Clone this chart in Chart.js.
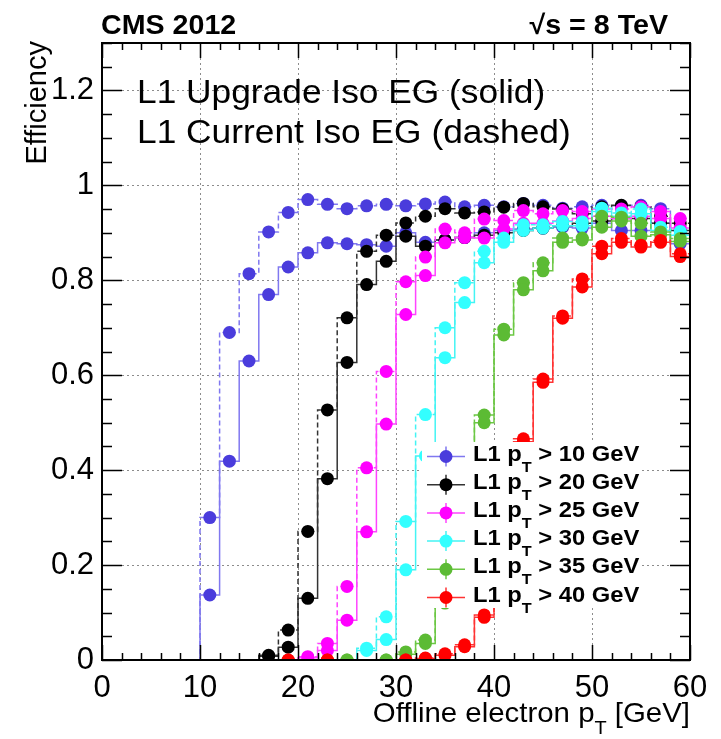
<!DOCTYPE html>
<html>
<head>
<meta charset="utf-8">
<script src="https://cdn.jsdelivr.net/npm/chart.js@4.4.1/dist/chart.umd.min.js"></script>
<style>
  html, body { margin: 0; padding: 0; background: #fff; }
  #wrap { width: 721px; height: 739px; }
</style>
</head>
<body>
<div id="wrap"><canvas id="effChart"></canvas></div>
<script>
// ─── DATA ────────────────────────────────────────────────────
// 2 GeV bins, centres 1..59 ; null = no point drawn in that bin
const binCenters = [1, 3, 5, 7, 9, 11, 13, 15, 17, 19, 21, 23, 25, 27, 29,
                    31, 33, 35, 37, 39, 41, 43, 45, 47, 49, 51, 53, 55, 57, 59];
const binEdges = [0, 2, 4, 6, 8, 10, 12, 14, 16, 18, 20, 22, 24, 26, 28, 30,
                  32, 34, 36, 38, 40, 42, 44, 46, 48, 50, 52, 54, 56, 58, 60];
const xTickValues = [0, 10, 20, 30, 40, 50, 60];
const yTickValues = [0, 0.2, 0.4, 0.6, 0.8, 1, 1.2];

// L1 pT > 10 GeV
const blueCurrent = [null, null, null, null, null, 0.30, 0.69, 0.814, 0.902, 0.943,
                     0.970, 0.960, 0.951, 0.957, 0.960, 0.957, 0.961, 0.965, 0.955, 0.958,
                     0.955, 0.962, 0.958, 0.952, 0.955, 0.958, 0.957, 0.958, 0.951, 0.905];
const blueUpgrade = [null, null, null, null, null, 0.137, 0.419, 0.630, 0.770, 0.828,
                     0.858, 0.879, 0.877, 0.875, 0.872, 0.900, 0.880, 0.885, 0.890, 0.900,
                     0.905, 0.908, 0.910, 0.912, 0.910, 0.920, 0.905, 0.905, 0.920, 0.877];
// L1 pT > 20 GeV
const blackCurrent = [null, null, null, null, null, null, null, null, 0.010, 0.063,
                      0.271, 0.527, 0.721, 0.861, 0.895, 0.921, 0.935, 0.951, 0.942, 0.944,
                      0.954, 0.962, 0.955, 0.950, 0.940, 0.955, 0.958, 0.955, 0.935, 0.920];
const blackUpgrade = [null, null, null, null, null, null, null, null, 0.008, 0.027,
                      0.130, 0.382, 0.627, 0.791, 0.840, 0.893, 0.872, 0.885, 0.890, 0.895,
                      0.900, 0.905, 0.910, 0.915, 0.920, 0.925, 0.930, 0.930, 0.920, 0.905];
// L1 pT > 25 GeV
const magentaCurrent = [null, null, null, null, null, null, null, null, null, null,
                        0.007, 0.035, 0.155, 0.405, 0.608, 0.797, 0.849, 0.908, 0.900, 0.929,
                        0.926, 0.947, 0.940, 0.947, 0.945, 0.950, 0.950, 0.955, 0.945, 0.930];
const magentaUpgrade = [null, null, null, null, null, null, null, null, null, null,
                        0.005, 0.020, 0.084, 0.270, 0.497, 0.728, 0.810, 0.879, 0.890, 0.889,
                        0.908, 0.920, 0.920, 0.925, 0.930, 0.935, 0.930, 0.935, 0.930, 0.910];
// L1 pT > 30 GeV
const cyanCurrent = [null, null, null, null, null, null, null, null, null, null,
                     null, null, null, 0.025, 0.091, 0.292, 0.517, 0.700, 0.795, 0.861,
                     0.889, 0.917, 0.917, 0.924, 0.923, 0.952, 0.942, 0.950, 0.912, 0.903];
const cyanUpgrade = [null, null, null, null, null, null, null, null, null, null,
                     null, null, null, 0.020, 0.043, 0.190, 0.430, 0.637, 0.753, 0.837,
                     0.880, 0.905, 0.910, 0.915, 0.915, 0.945, 0.935, 0.940, 0.905, 0.895];
// L1 pT > 35 GeV
const greenCurrent = [null, null, null, null, null, null, null, null, null, null,
                      null, null, 0, null, 0, 0.017, 0.042, 0.140, 0.330, 0.516,
                      0.697, 0.795, 0.837, 0.889, 0.889, 0.935, 0.933, 0.920, 0.902, 0.888];
const greenUpgrade = [null, null, null, null, null, null, null, null, null, null,
                      null, null, 0, null, 0, 0.012, 0.035, 0.120, 0.300, 0.500,
                      0.685, 0.780, 0.820, 0.880, 0.885, 0.912, 0.925, 0.893, 0.896, 0.882];
// L1 pT > 40 GeV
const redCurrent = [null, null, null, null, null, null, null, null, null, 0,
                    null, 0, null, null, null, 0, 0.004, 0.013, 0.032, 0.095,
                    0.270, 0.466, 0.592, 0.725, 0.803, 0.872, 0.888, 0.874, 0.884, 0.856];
const redUpgrade = [null, null, null, null, null, null, null, null, null, 0,
                    null, 0, null, null, null, 0, 0.003, 0.010, 0.028, 0.090,
                    0.260, 0.460, 0.585, 0.720, 0.786, 0.856, 0.880, 0.870, 0.880, 0.850];

const seriesLabels = ['10', '20', '25', '30', '35', '40'];
const markerColors = ['#4a3cdc', '#000000', '#ff00ff', '#33ffff', '#5cbb34', '#ff0000'];
const lineColors = ['#8078f0', '#333333', '#ff44ff', '#44f4f4', '#6cc844', '#ff3333'];
const currentSets = [blueCurrent, blackCurrent, magentaCurrent, cyanCurrent, greenCurrent, redCurrent];
const upgradeSets = [blueUpgrade, blackUpgrade, magentaUpgrade, cyanUpgrade, greenUpgrade, redUpgrade];

const FONT = "'Liberation Sans', Arial, Helvetica, sans-serif";


// ─── HELPERS ─────────────────────────────────────────────────

// histogram outline: value of bin i held from edge i to edge i+1
// (Chart.js 'before' = horizontal at previous y, then vertical)
function stepPoints(values) {
    const pts = values.map((v, i) => ({ x: binEdges[i], y: v === null ? 0 : v }));
    pts.push({ x: binEdges[binEdges.length - 1], y: pts[pts.length - 1].y });
    return pts;
}

function markerPoints(values) {
    return values.map((v, i) => ({ x: binCenters[i], y: v }));
}

// text stretched horizontally by sx (the reference glyphs are wide)
function wideText(ctx, text, x, y, sx) {
    ctx.save();
    ctx.translate(x, y);
    ctx.scale(sx, 1);
    ctx.fillText(text, 0, 0);
    ctx.restore();
}

// draws  before + subscript T + after, starting at x
function drawWithSubT(ctx, x, y, before, after, size, bold, sx, subDy) {
    const w = bold ? 'bold ' : '';
    ctx.textAlign = 'left';
    ctx.font = w + size + 'px ' + FONT;
    wideText(ctx, before, x, y, sx);
    x += ctx.measureText(before).width * sx;
    ctx.font = w + Math.round(size * 0.68) + 'px ' + FONT;
    wideText(ctx, 'T', x, y + size * subDy, sx);
    x += ctx.measureText('T').width * sx;
    ctx.font = w + size + 'px ' + FONT;
    wideText(ctx, after, x, y, sx);
}

function widthWithSubT(ctx, before, after, size, bold, sx) {
    const w = bold ? 'bold ' : '';
    ctx.font = w + size + 'px ' + FONT;
    let total = ctx.measureText(before).width + ctx.measureText(after).width;
    ctx.font = w + Math.round(size * 0.68) + 'px ' + FONT;
    return (total + ctx.measureText('T').width) * sx;
}


// ─── DATASETS ────────────────────────────────────────────────
const datasets = [];
seriesLabels.forEach((lab, k) => {
    const base = (seriesLabels.length - k) * 10;   // later series drawn on top
    [[currentSets[k], true, 3], [upgradeSets[k], false, 1]].forEach(([vals, dashed, off]) => {
        datasets.push({
            type: 'line',
            data: stepPoints(vals),
            stepped: 'before',
            borderColor: lineColors[k],
            borderWidth: 1.5,
            borderDash: dashed ? [5, 3] : [],
            pointRadius: 0,
            fill: false,
            order: base + off
        });
        datasets.push({
            type: 'line',
            data: markerPoints(vals),
            showLine: false,
            pointRadius: 6.5,
            pointBackgroundColor: markerColors[k],
            pointBorderColor: markerColors[k],
            pointBorderWidth: 0,
            order: base + off - 1
        });
    });
});


// ─── FRAME, TEXT AND LEGEND PLUGIN ───────────────────────────
const rootStyle = {
    id: 'rootStyle',
    afterDraw(chart) {
        const { ctx, chartArea: a, scales: { x, y } } = chart;
        ctx.save();

        // legend box: white fill, no border, hides what is behind it
        ctx.fillStyle = '#fff';
        ctx.fillRect(422, 442, 219, 166);

        // inward ticks on all four sides
        ctx.strokeStyle = '#000';
        ctx.lineWidth = 1.5;
        ctx.beginPath();
        for (let v = 0; v <= 60; v += 2) {
            const px = Math.round(x.getPixelForValue(v)) + 0.5;
            const len = v % 10 === 0 ? 15 : 7;
            ctx.moveTo(px, a.bottom); ctx.lineTo(px, a.bottom - len);
            ctx.moveTo(px, a.top); ctx.lineTo(px, a.top + len);
        }
        for (let i = 0; i <= 26; i++) {
            const py = Math.round(y.getPixelForValue(i * 0.05)) + 0.5;
            const len = i % 4 === 0 ? 20 : 10;
            ctx.moveTo(a.left, py); ctx.lineTo(a.left + len, py);
            ctx.moveTo(a.right, py); ctx.lineTo(a.right - len, py);
        }
        ctx.stroke();

        // frame
        ctx.lineWidth = 2;
        ctx.strokeRect(a.left, a.top, a.right - a.left, a.bottom - a.top);

        ctx.fillStyle = '#000';
        ctx.textBaseline = 'alphabetic';
        ctx.textAlign = 'left';

        // header
        ctx.font = 'bold 27px ' + FONT;
        wideText(ctx, 'CMS 2012', a.left - 1, 34, 1.06);
        const sq = '\u221As = 8 TeV';
        wideText(ctx, sq, 668 - ctx.measureText(sq).width * 1.06, 34, 1.06);

        // annotations
        ctx.font = '33px ' + FONT;
        wideText(ctx, 'L1 Upgrade Iso EG (solid)', 137, 103, 1.07);
        wideText(ctx, 'L1 Current Iso EG (dashed)', 137, 143, 1.07);

        // y title
        ctx.save();
        ctx.translate(46, a.top - 2);
        ctx.rotate(-Math.PI / 2);
        ctx.textAlign = 'right';
        ctx.font = '29px ' + FONT;
        ctx.fillText('Efficiency', 0, 0);
        ctx.restore();

        // x title
        const tw = widthWithSubT(ctx, 'Offline electron p', ' [GeV]', 28, false, 1.05);
        drawWithSubT(ctx, a.right - tw, 722, 'Offline electron p', ' [GeV]', 28, false, 1.05, 0.42);

        // legend entries
        const lx = 446, ly0 = 456.5, dy = 28.2;
        seriesLabels.forEach((lab, k) => {
            const cy = ly0 + k * dy;
            ctx.strokeStyle = lineColors[k];
            ctx.lineWidth = 1.5;
            ctx.beginPath();
            ctx.moveTo(lx - 19, cy); ctx.lineTo(lx + 19, cy);
            ctx.moveTo(lx, cy - 10); ctx.lineTo(lx, cy + 10);
            ctx.stroke();
            ctx.fillStyle = markerColors[k];
            ctx.beginPath();
            ctx.arc(lx, cy, 6.5, 0, Math.PI * 2);
            ctx.fill();
            ctx.fillStyle = '#000';
            drawWithSubT(ctx, 473, cy + 4, 'L1 p', ' > ' + lab + ' GeV', 22, true, 1.08, 0.5);
        });

        ctx.restore();
    }
};


// ─── CHART ───────────────────────────────────────────────────
new Chart(document.getElementById('effChart'), {
    data: { datasets },
    options: {
        responsive: true,
        maintainAspectRatio: false,
        animation: false,
        events: [],
        layout: { padding: { left: 0, right: 31, top: 43, bottom: 0 } },
        plugins: {
            legend: { display: false },
            tooltip: { enabled: false },
            title: { display: false }
        },
        scales: {
            x: {
                type: 'linear',
                min: 0,
                max: 60,
                afterBuildTicks: s => { s.ticks = xTickValues.map(v => ({ value: v })); },
                afterFit: s => { s.height = 79; },
                ticks: {
                    color: '#000',
                    font: { family: FONT, size: 31 },
                    padding: 10,
                    maxRotation: 0,
                    autoSkip: false
                },
                grid: {
                    color: c => (c.tick && (c.tick.value === 0 || c.tick.value === 60)) ? 'rgba(0,0,0,0)' : '#8c8c8c',
                    lineWidth: 1,
                    drawTicks: false
                },
                border: { display: false, dash: [2, 3] }
            },
            y: {
                type: 'linear',
                min: 0,
                max: 1.3,
                afterBuildTicks: s => { s.ticks = yTickValues.map(v => ({ value: v })); },
                afterFit: s => { s.width = 102; },
                ticks: {
                    color: '#000',
                    font: { family: FONT, size: 31 },
                    padding: 8,
                    callback: v => String(Math.round(v * 10) / 10)
                },
                grid: {
                    color: c => (c.tick && c.tick.value === 0) ? 'rgba(0,0,0,0)' : '#8c8c8c',
                    lineWidth: 1,
                    drawTicks: false
                },
                border: { display: false, dash: [2, 3] }
            }
        }
    },
    plugins: [rootStyle]
});
</script>
</body>
</html>
